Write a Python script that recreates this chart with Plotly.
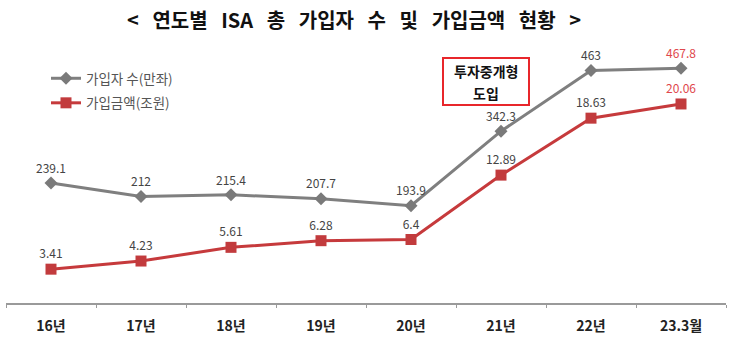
import plotly.graph_objects as go

categories = ["16년", "17년", "18년", "19년", "20년", "21년", "22년", "23.3월"]
subscribers = [239.1, 212, 215.4, 207.7, 193.9, 342.3, 463, 467.8]
amounts = [3.41, 4.23, 5.61, 6.28, 6.4, 12.89, 18.63, 20.06]
sub_labels = ["239.1", "212", "215.4", "207.7", "193.9", "342.3", "463", "467.8"]
amt_labels = ["3.41", "4.23", "5.61", "6.28", "6.4", "12.89", "18.63", "20.06"]

FONT = "Noto Sans CJK KR"
GRAY = "#7f7f7f"
RED = "#c63a3c"
LABEL = "#444444"
HILITE = "#e0474c"

lab_colors = [LABEL] * (len(categories) - 1) + [HILITE]

title_text = "< 연도별 ISA 총 가입자 수 및 가입금액 현황 >".replace(" ", " \u00a0\u00a0")

W, H = 730, 346


def px(x):
    return x / W


def py(y):
    return 1 - y / H


fig = go.Figure()
fig.add_trace(go.Scatter(
    x=categories, y=subscribers, name="가입자 수(만좌)", legendgroup="a",
    mode="lines+markers+text", text=sub_labels, textposition="top center",
    textfont=dict(family=FONT, size=12, color=lab_colors),
    line=dict(color=GRAY, width=3),
    marker=dict(symbol="diamond", size=10, color="#7a7a7a"),
    yaxis="y", cliponaxis=False,
))
fig.add_trace(go.Scatter(
    x=categories, y=amounts, name="가입금액(조원)", legendgroup="b",
    mode="lines+markers+text", text=amt_labels, textposition="top center",
    textfont=dict(family=FONT, size=12, color=lab_colors),
    line=dict(color=RED, width=3),
    marker=dict(symbol="square", size=11, color="#c23b3d"),
    yaxis="y2", cliponaxis=False,
))

fig.update_layout(
    width=W, height=H,
    margin=dict(l=0, r=0, t=0, b=0),
    paper_bgcolor="white", plot_bgcolor="white",
    font=dict(family=FONT, color="#333"),
    xaxis=dict(
        domain=[6 / W, 726 / W], type="category", range=[-0.5, 7.5],
        showline=True, linecolor="#9a9a9a", linewidth=2,
        ticks="outside", tickson="boundaries", ticklen=3, tickcolor="#9a9a9a",
        tickfont=dict(family=FONT, size=14, color="#222", weight="bold"),
        ticklabelstandoff=9,
        showgrid=False, zeroline=False,
    ),
    yaxis=dict(
        domain=[43 / H, 296 / H], range=[0, 504],
        visible=False, showgrid=False, zeroline=False,
    ),
    yaxis2=dict(
        domain=[43 / H, 296 / H], range=[0, 25.5], overlaying="y",
        visible=False, showgrid=False, zeroline=False,
    ),
    showlegend=True,
    legend=dict(
        x=0.063, y=py(63), xanchor="left", yanchor="top",
        font=dict(family=FONT, size=13.5, color="#555"),
        bgcolor="rgba(0,0,0,0)", traceorder="grouped", tracegroupgap=4,
        itemclick=False,
    ),
    shapes=[
        dict(type="rect", xref="paper", yref="paper",
             x0=px(443), x1=px(529), y0=py(105), y1=py(58),
             line=dict(color="#e8262b", width=2), fillcolor="white", layer="below"),
    ],
    annotations=[
        dict(
            text=title_text,
            x=px(354), y=py(20), xref="paper", yref="paper",
            xanchor="center", yanchor="middle", showarrow=False,
            font=dict(family=FONT, size=20, color="#111", weight="bold"),
        ),
        dict(
            text="투자중개형",
            x=px(486), y=py(71), xref="paper", yref="paper",
            xanchor="center", yanchor="middle", showarrow=False,
            font=dict(family=FONT, size=14, color="#111", weight="bold"),
            borderpad=0,
        ),
        dict(
            text="도입",
            x=px(486), y=py(93), xref="paper", yref="paper",
            xanchor="center", yanchor="middle", showarrow=False,
            font=dict(family=FONT, size=14, color="#111", weight="bold"),
            borderpad=0,
        ),
    ],
)

fig.write_html("out.html")
